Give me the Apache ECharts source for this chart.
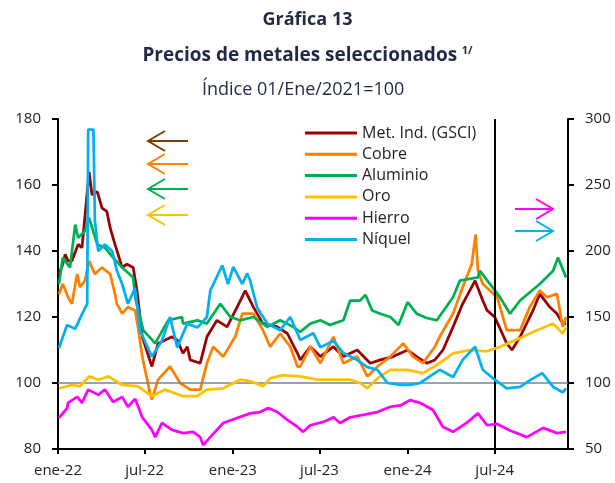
<!DOCTYPE html>
<html>
<head>
<meta charset="utf-8">
<title>Gráfica 13</title>
<script src="https://cdn.jsdelivr.net/npm/echarts@6/dist/echarts.min.js"></script>
<style>
html, body { margin: 0; padding: 0; background: #fff; }
#main { width: 615px; height: 483px; }
</style>
</head>
<body>
<div id="main"></div>
<script>
// eje x: marcas semestrales
var tickDates = ['2022-01-01', '2022-07-01', '2023-01-01', '2023-07-01', '2024-01-01', '2024-07-01'];
var tickLabels = ['ene-22', 'jul-22', 'ene-23', 'jul-23', 'ene-24', 'jul-24'];
var seriesNames = ['Met. Ind. (GSCI)', 'Cobre', 'Aluminio', 'Oro', 'Hierro', 'Níquel'];

// eje izquierdo
var metInd = [
	['2022-01-03',133],['2022-01-11',136],['2022-01-16',139],['2022-01-22',137],['2022-01-30',137],
	['2022-02-12',142],['2022-02-20',141],['2022-02-26',150],['2022-03-07',164],['2022-03-13',157],
	['2022-03-24',158],['2022-04-03',153],['2022-04-13',152],['2022-04-20',147],['2022-04-30',142],
	['2022-05-15',135],['2022-05-25',136],['2022-06-07',135],['2022-06-15',128],['2022-06-26',114],
	['2022-07-16',105],['2022-07-29',112],['2022-08-13',113],['2022-08-27',114],['2022-09-07',113],
	['2022-09-19',109],['2022-09-28',111],['2022-10-04',107],['2022-10-25',106],['2022-11-08',114],
	['2022-11-29',119],['2022-12-20',117],['2023-01-10',123],['2023-01-27',128],['2023-02-13',123],
	['2023-03-05',118],['2023-04-04',117],['2023-04-25',115],['2023-05-16',109],['2023-05-22',107],
	['2023-06-12',111],['2023-07-03',108],['2023-07-30',111],['2023-08-20',108],['2023-09-18',110],
	['2023-10-15',106],['2023-11-05',107],['2023-12-02',108],['2024-01-01',110],['2024-01-20',108],
	['2024-02-10',106],['2024-02-27',107],['2024-03-15',110],['2024-04-05',117],['2024-04-25',124],
	['2024-05-21',131],['2024-06-06',125],['2024-06-15',122],['2024-07-01',120],['2024-07-26',112],
	['2024-08-06',110],['2024-08-23',114],['2024-09-19',122],['2024-10-03',127],['2024-10-24',123],
	['2024-11-08',121],['2024-11-20',118],['2024-11-27',118]
];
var cobre = [
	['2022-01-03',127],['2022-01-11',130],['2022-01-22',126],['2022-01-30',124],['2022-02-10',133],
	['2022-02-16',129],['2022-02-26',131],['2022-03-07',137],['2022-03-19',133],['2022-04-03',135],
	['2022-04-20',133],['2022-04-30',127],['2022-05-04',124],['2022-05-15',121],['2022-05-27',123],
	['2022-06-11',122],['2022-06-17',117],['2022-06-26',108],['2022-07-12',97],['2022-07-16',95],
	['2022-07-29',101],['2022-08-23',105],['2022-09-13',100],['2022-10-04',98],['2022-10-25',98],
	['2022-11-08',106],['2022-11-21',111],['2022-12-12',108],['2023-01-06',114],['2023-01-21',121],
	['2023-02-13',121],['2023-03-05',116],['2023-03-20',111],['2023-04-10',115],['2023-05-01',111],
	['2023-05-16',105],['2023-05-22',105],['2023-06-12',111],['2023-07-03',106],['2023-07-30',114],
	['2023-08-20',106],['2023-09-18',108],['2023-10-09',102],['2023-10-30',105],['2023-11-26',108],
	['2023-12-23',112],['2024-01-12',108],['2024-02-02',106],['2024-02-27',111],['2024-03-08',114],
	['2024-04-05',121],['2024-04-25',129],['2024-05-14',136],['2024-05-22',145],['2024-05-27',134],
	['2024-06-06',130],['2024-07-06',126],['2024-07-26',116],['2024-08-23',116],['2024-09-12',123],
	['2024-10-03',128],['2024-10-18',126],['2024-11-08',127],['2024-11-20',117],['2024-11-27',120]
];
var aluminio = [
	['2022-01-03',130],['2022-01-11',138],['2022-01-26',135],['2022-02-06',148],['2022-02-12',144],
	['2022-02-26',146],['2022-03-07',150],['2022-03-24',142],['2022-04-09',141],['2022-04-26',138],
	['2022-05-15',135],['2022-06-07',132],['2022-06-11',126],['2022-06-28',116],['2022-07-23',112],
	['2022-08-19',119],['2022-09-17',120],['2022-09-19',118],['2022-10-19',119],['2022-11-08',118],
	['2022-12-06',124],['2022-12-27',120],['2023-01-16',119],['2023-02-13',120],['2023-03-14',117],
	['2023-04-10',119],['2023-05-07',117],['2023-05-22',115.5],['2023-06-12',118],['2023-07-03',119],
	['2023-07-23',117.6],['2023-08-20',119],['2023-09-03',125],['2023-09-24',125],['2023-10-05',126.7],
	['2023-10-19',122],['2023-11-05',121],['2023-11-26',120],['2023-12-13',117.6],['2024-01-01',124.5],
	['2024-01-20',121],['2024-02-10',119.7],['2024-03-02',119],['2024-04-05',126],['2024-04-19',131],
	['2024-05-27',132],['2024-05-31',134],['2024-07-12',126],['2024-08-02',121],['2024-08-23',125],
	['2024-10-03',130],['2024-10-31',134],['2024-11-10',138],['2024-11-27',132]
];

// eje derecho
var oro = [
	['2022-01-03',96],['2022-01-30',98.5],['2022-02-16',97.5],['2022-03-07',105],['2022-03-26',102.5],
	['2022-04-16',105],['2022-05-15',98.5],['2022-06-17',97.5],['2022-07-16',90],['2022-08-13',95],
	['2022-09-19',90],['2022-10-19',90],['2022-11-08',95],['2022-12-12',96],['2023-01-16',102.5],
	['2023-02-06',101.5],['2023-03-05',97.5],['2023-03-20',103.5],['2023-04-16',106],['2023-05-22',105],
	['2023-06-26',102.5],['2023-07-30',102.5],['2023-09-03',102.5],['2023-09-24',100],['2023-10-09',96],
	['2023-10-30',103.5],['2023-11-26',110],['2024-01-01',110],['2024-02-02',107.5],['2024-03-08',115],
	['2024-04-05',122.5],['2024-05-10',125],['2024-06-15',124],['2024-07-12',127.5],['2024-08-23',134],
	['2024-09-27',140],['2024-10-31',145],['2024-11-20',137.5],['2024-11-27',142]
];
var hierro = [
	['2022-01-03',73.5],['2022-01-20',81],['2022-01-22',85],['2022-02-10',89.5],['2022-02-20',85],
	['2022-03-05',95],['2022-03-26',91],['2022-04-09',95],['2022-04-26',85.6],['2022-05-15',89.5],
	['2022-05-27',82],['2022-06-11',88],['2022-06-26',74],['2022-07-16',64.5],['2022-07-23',59],
	['2022-08-06',69.7],['2022-08-27',64.5],['2022-09-19',62],['2022-10-10',63],['2022-10-25',59],
	['2022-10-31',53],['2022-11-15',59],['2022-12-12',69.7],['2023-01-10',73.5],['2023-02-06',77],
	['2023-02-27',78],['2023-03-16',81],['2023-04-04',78],['2023-04-25',72],['2023-05-16',66.7],
	['2023-05-28',63],['2023-06-12',68],['2023-07-09',70.5],['2023-07-30',74],['2023-08-13',69.7],
	['2023-09-03',74],['2023-09-30',75.8],['2023-10-30',78],['2023-11-26',82],['2023-12-17',83],
	['2024-01-06',87],['2024-01-27',85],['2024-02-23',79.5],['2024-03-15',66.7],['2024-04-05',63],
	['2024-05-04',70],['2024-05-27',77],['2024-06-15',68],['2024-07-06',69],['2024-08-02',64],
	['2024-09-06',59],['2024-10-10',66],['2024-11-08',62],['2024-11-27',63]
];
var niquel = [
	['2022-01-03',126.5],['2022-01-20',144],['2022-02-06',141],['2022-02-16',149],['2022-02-20',152],
	['2022-03-03',160],['2022-03-05',292],['2022-03-16',292],['2022-03-19',223],['2022-03-26',200],
	['2022-04-09',205],['2022-04-24',200],['2022-05-04',185],['2022-05-15',175],['2022-05-27',160],
	['2022-06-11',172],['2022-06-21',140],['2022-07-16',120],['2022-08-06',132],['2022-08-23',150],
	['2022-09-07',127],['2022-09-28',145],['2022-10-19',142],['2022-11-08',150],['2022-11-15',170],
	['2022-12-10',189],['2022-12-22',175],['2023-01-02',188],['2023-01-21',175],['2023-01-31',183],
	['2023-02-06',178],['2023-02-21',157],['2023-03-14',145],['2023-04-10',140],['2023-05-01',150],
	['2023-05-22',132.6],['2023-06-18',137.7],['2023-07-03',127],['2023-07-30',132],['2023-08-20',122.7],
	['2023-09-18',117.4],['2023-10-09',112],['2023-10-30',110],['2023-11-20',100],['2023-12-17',98.5],
	['2024-01-06',98.5],['2024-01-27',100],['2024-03-08',110],['2024-04-05',104.5],['2024-04-25',117.5],
	['2024-05-21',127.5],['2024-06-06',110],['2024-07-01',102.5],['2024-07-26',96],['2024-08-23',97],
	['2024-09-12',102],['2024-10-08',107.5],['2024-10-31',97],['2024-11-20',93],['2024-11-27',96]
];

var colors = ['#990000', '#FF8000', '#00B050', '#FFC000', '#FF00FF', '#00B0F0'];
var fontFam = '"Open Sans", Lato, sans-serif';
var navy = '#1f2a44';

// fecha 'AAAA-MM-DD' -> milisegundos
function ts(s) {
	var p = s.split('-');
	return new Date(+p[0], +p[1] - 1, +p[2]).getTime();
}
var tickValues = tickDates.map(ts);

function lineSeries(i, data, yIdx) {
	return {
		name: seriesNames[i],
		type: 'line',
		yAxisIndex: yIdx,
		data: data.map(function (d) { return [ts(d[0]), d[1]]; }),
		showSymbol: false,
		symbol: 'none',
		lineStyle: { color: colors[i], width: 2.75 },
		itemStyle: { color: colors[i] },
		z: 2 + i
	};
}

// flechas que indican el eje de cada serie
function arrow(y, color, dir) {
	var tip = dir < 0 ? 148 : 553;
	var tail = dir < 0 ? 188 : 515;
	var back = tip - dir * 17;
	return {
		type: 'group',
		children: [
			{ type: 'line', shape: { x1: tail, y1: y, x2: tip, y2: y }, style: { stroke: color, lineWidth: 2 } },
			{ type: 'polyline', shape: { points: [[back, y - 10], [tip, y], [back, y + 10]] }, style: { stroke: color, lineWidth: 2, fill: null } }
		]
	};
}

var s0 = lineSeries(0, metInd, 0);
s0.markLine = {
	silent: true,
	symbol: 'none',
	label: { show: false },
	data: [
		{ yAxis: 100, lineStyle: { color: '#75859b', width: 1.5, type: 'solid' } },
		{ xAxis: ts('2024-07-01'), lineStyle: { color: '#000', width: 2, type: 'solid' } }
	]
};
s0.z = 1;

var option = {
	animation: false,
	backgroundColor: '#fff',
	textStyle: { fontFamily: fontFam },
	title: [
		{ text: 'Gráfica 13', left: 'center', top: 6, textStyle: { fontFamily: fontFam, fontSize: 18, fontWeight: 'bold', color: navy } },
		{
			text: '{a|Precios de metales seleccionados} {s|1/}', left: 'center', top: 40,
			textStyle: {
				rich: {
					a: { fontFamily: fontFam, fontSize: 19, fontWeight: 'bold', color: navy },
					s: { fontFamily: fontFam, fontSize: 11, fontWeight: 'bold', color: navy, padding: [0, 0, 10, 0] }
				}
			}
		},
		{ text: 'Índice 01/Ene/2021=100', left: 197, top: 76, textStyle: { fontFamily: fontFam, fontSize: 18, fontWeight: 'normal', color: navy } }
	],
	legend: {
		orient: 'vertical',
		left: 305,
		top: 125,
		padding: 0,
		itemWidth: 52,
		itemHeight: 3,
		itemGap: 5.3,
		icon: 'rect',
		data: seriesNames,
		textStyle: { fontFamily: fontFam, fontSize: 16, color: '#222', lineHeight: 16 }
	},
	grid: { left: 58, right: 47, top: 119, bottom: 34, containLabel: false },
	xAxis: {
		type: 'value',
		min: ts('2022-01-01'),
		max: ts('2024-12-01'),
		axisLine: { lineStyle: { color: '#000', width: 2 } },
		axisTick: { show: true, length: 5, customValues: tickValues, lineStyle: { color: '#000', width: 2 } },
		axisLabel: {
			customValues: tickValues,
			color: '#222',
			fontSize: 15,
			margin: 14,
			formatter: function (v) {
				var i = tickValues.indexOf(v);
				return i >= 0 ? tickLabels[i] : '';
			}
		},
		splitLine: { show: false }
	},
	yAxis: [
		{
			type: 'value', min: 80, max: 180, interval: 20,
			axisLine: { show: true, lineStyle: { color: '#000', width: 2 } },
			axisTick: { show: true, length: 6, lineStyle: { color: '#000', width: 2 } },
			axisLabel: { color: '#222', fontSize: 15, margin: 17 },
			splitLine: { show: false }
		},
		{
			type: 'value', min: 50, max: 300, interval: 50,
			axisLine: { show: true, lineStyle: { color: '#000', width: 2 } },
			axisTick: { show: true, length: 6, lineStyle: { color: '#000', width: 2 } },
			axisLabel: { color: '#222', fontSize: 15, margin: 17 },
			splitLine: { show: false }
		}
	],
	graphic: [
		arrow(141, '#7B3F00', -1),
		arrow(164, colors[1], -1),
		arrow(189, colors[2], -1),
		arrow(215, colors[3], -1),
		arrow(209, colors[4], 1),
		arrow(231, colors[5], 1)
	],
	series: [
		s0,
		lineSeries(1, cobre, 0),
		lineSeries(2, aluminio, 0),
		lineSeries(3, oro, 1),
		lineSeries(4, hierro, 1),
		lineSeries(5, niquel, 1)
	]
};

var myChart = echarts.init(document.getElementById('main'));
myChart.setOption(option);
</script>
</body>
</html>
